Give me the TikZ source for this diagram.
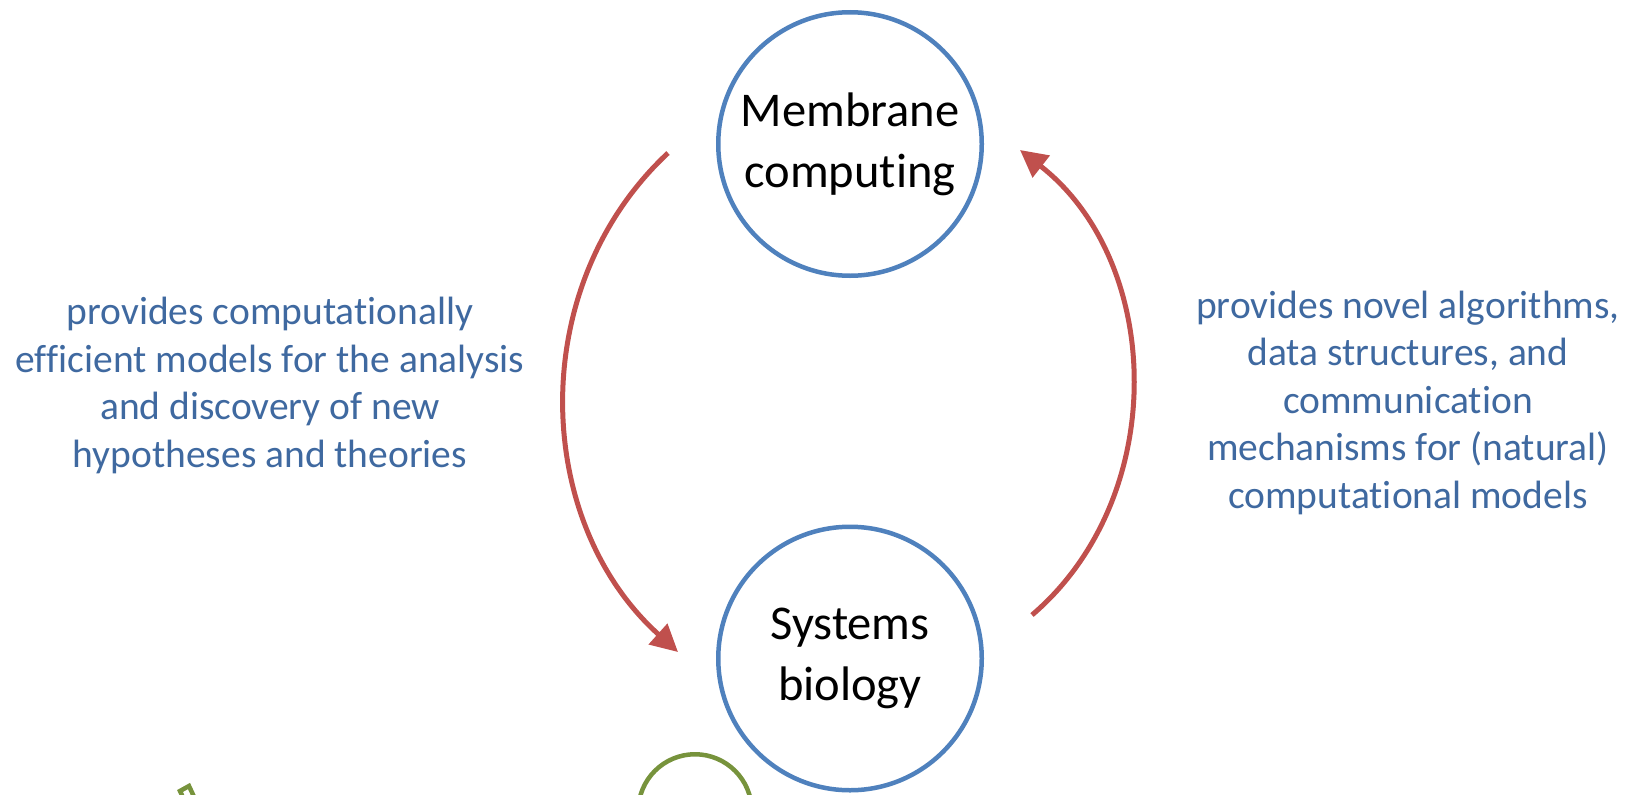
\documentclass[tikz,border=0pt]{standalone}
\usepackage{fontspec}
\setmainfont{Carlito}[Ligatures=NoCommon]
\usetikzlibrary{arrows.meta}
\definecolor{ringblue}{HTML}{4F81BD}
\definecolor{arrowred}{HTML}{C0504D}
\definecolor{labelblue}{HTML}{3F69A0}
\definecolor{leafgreen}{HTML}{77933C}
\tikzset{
  topic/.style={circle, draw=ringblue, fill=white, line width=4.5pt,
    minimum size=263.5pt, inner sep=0pt, align=center,
    font=\fontsize{48.5}{61}\selectfont, text=black},
  flow/.style={draw=arrowred, line width=5pt,
    -{Triangle[length=27pt,width=27pt]}},
  note/.style={align=center, text=labelblue, anchor=base,
    font=\fontsize{39.5}{47.5}\selectfont},
  outline/.style={draw=leafgreen, line width=4.5pt}
}
\begin{document}
\begin{tikzpicture}[x=1pt,y=1pt]
  \useasboundingbox (0,0) rectangle (1633,-795);
  \clip (0,0) rectangle (1633,-795);

  % the two research areas
  \node[topic] (mc) at (850,-144) {Membrane\\computing};
  \node[topic] (sb) at (850,-658.5) {\raisebox{-3pt}{Systems}\\\raisebox{-3pt}{biology}};

  % partly visible green shapes along the lower edge
  \node[circle, outline, minimum size=113.5pt, inner sep=0pt] (ring) at (695,-811) {};
  \draw[outline, line join=miter] (180,-791) -- (189,-786) -- (196,-801) -- (187,-806) -- cycle;

  % end points of the two curved arrows
  \coordinate (l1) at (668,-153);
  \coordinate (l2) at (678,-652);
  \coordinate (r1) at (1032,-615);
  \coordinate (r2) at (1020,-150);

  \draw[flow] (l1) to[out=223, in=138] (l2);
  \draw[flow] (r1) to[out=40.5, in=322] (r2);

  % explanations beside the arrows
  \node[note] (ltxt) at (270,-467) {provides computationally\\efficient models for the analysis\\and discovery of new\\hypotheses and theories};
  \node[note] (rtxt) at (1408,-508) {provides novel algorithms,\\data structures, and\\communication\\mechanisms for (natural)\\computational models};
\end{tikzpicture}
\end{document}
